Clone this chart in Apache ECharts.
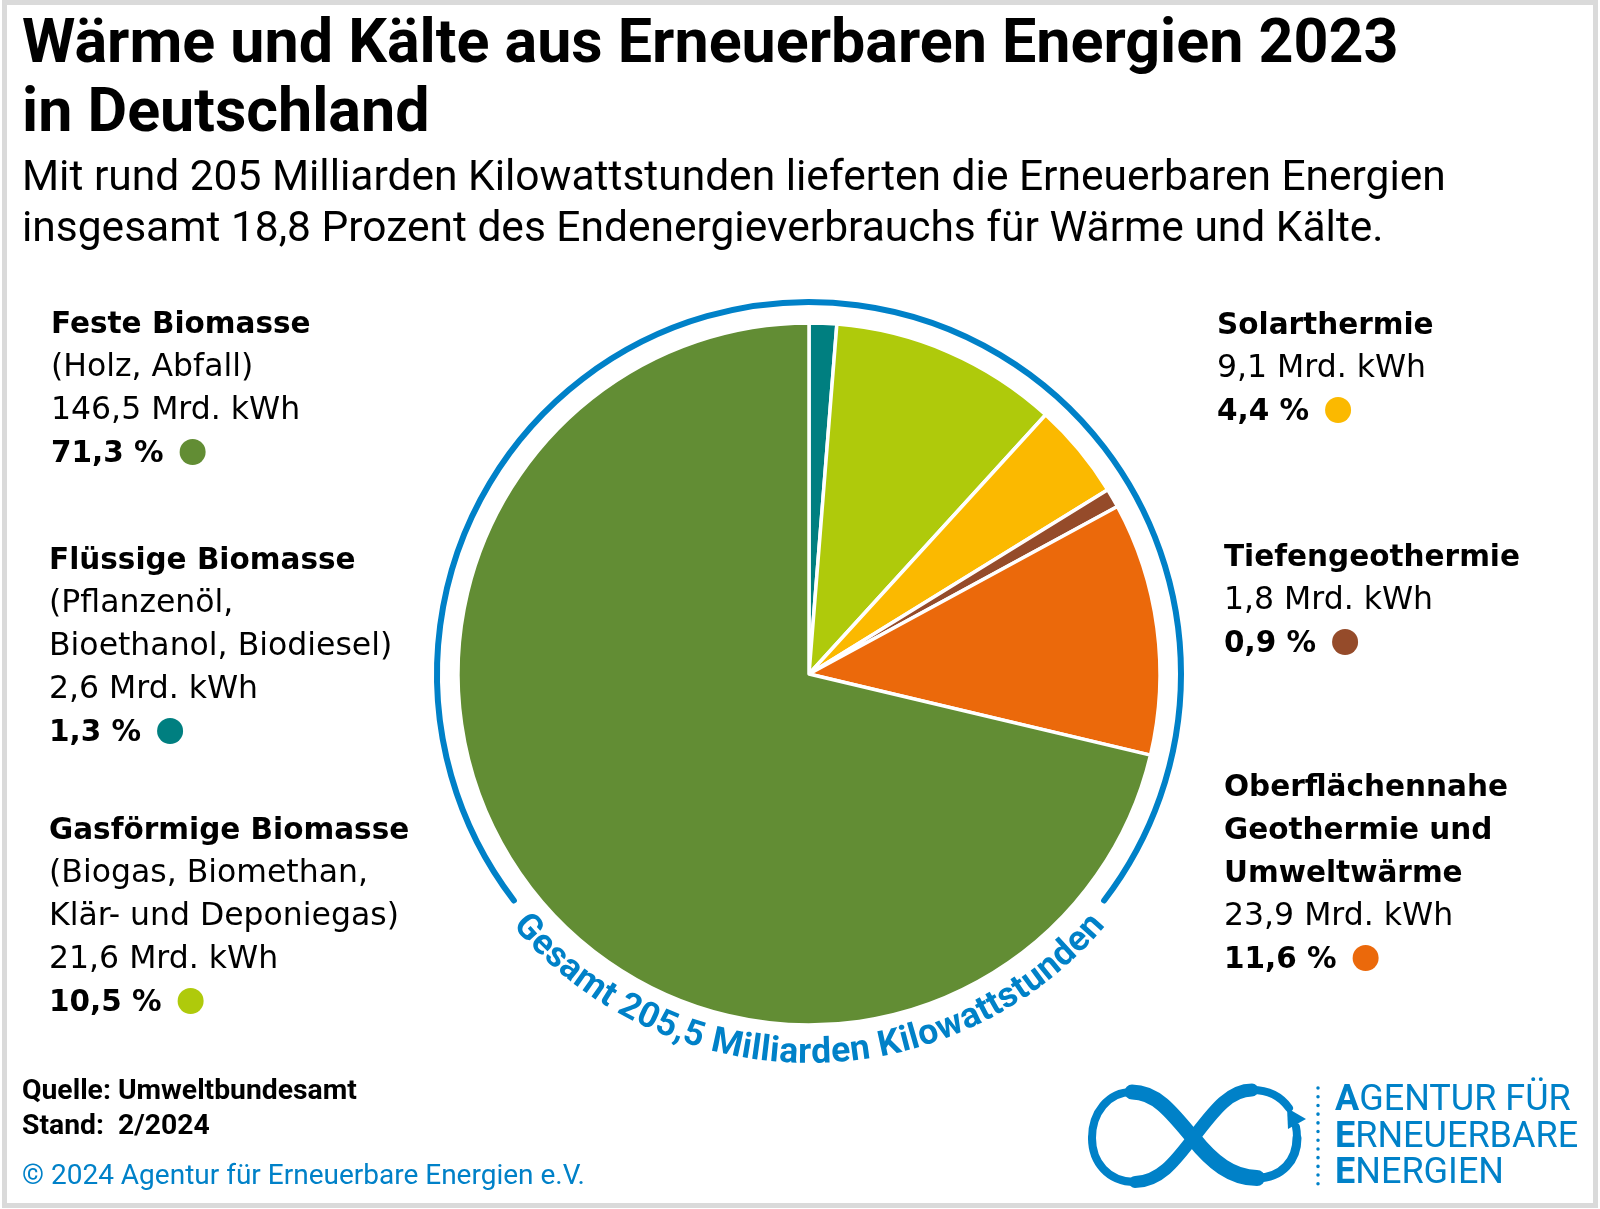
<!DOCTYPE html>
<html><head><meta charset="utf-8">
<script src="https://cdn.jsdelivr.net/npm/echarts@6/dist/echarts.min.js"></script>
<style>html,body{margin:0;padding:0;background:#fff}#c{width:1600px;height:1209px}</style>
</head><body><div id="c"></div>
<script>
// ---------- data ----------
const categoryTitles = [['Feste Biomasse'], ['Flüssige Biomasse'], ['Gasförmige Biomasse'], ['Solarthermie'], ['Tiefengeothermie'], ['Oberflächennahe', 'Geothermie und', 'Umweltwärme']];
const categoryDetails = [['(Holz, Abfall)'], ['(Pflanzenöl,', 'Bioethanol, Biodiesel)'], ['(Biogas, Biomethan,', 'Klär- und Deponiegas)'], [], [], []];
const energyValues = [146.5, 2.6, 21.6, 9.1, 1.8, 23.9]; // Mrd. kWh
const shareLabels = ['71,3 %', '1,3 %', '10,5 %', '4,4 %', '0,9 %', '11,6 %'];
const pieOrder = [1, 2, 3, 4, 5, 0]; // clockwise from 12 o'clock
const titleLines = ['Wärme und Kälte aus Erneuerbaren Energien 2023', 'in Deutschland'];
const subtitleLines = ['Mit rund 205 Milliarden Kilowattstunden lieferten die Erneuerbaren Energien', 'insgesamt 18,8 Prozent des Endenergieverbrauchs für Wärme und Kälte.'];
const totalLabel = 'Gesamt 205,5 Milliarden Kilowattstunden';
const footerLines = ['Quelle: Umweltbundesamt', 'Stand:  2/2024'];
const copyrightLine = '© 2024 Agentur für Erneuerbare Energien e.V.';
const logoLines = ['AGENTUR FÜR', 'ERNEUERBARE', 'ENERGIEN'];

// ---------- styles ----------
const sliceColors = ['#628d34', '#007f80', '#afca0b', '#fbb900', '#954b2a', '#eb690b'];
const BLUE = '#0081c8';
const CX = 809, CY = 674, R = 351;

const mctx = document.createElement('canvas').getContext('2d');
function tw(t, font) { mctx.font = font; return mctx.measureText(t).width; }
const g = [];
function txt(x, base, text, size, family, weight, color, align) {
  g.push({ type: 'text', x: x, y: base - 0.295 * size, silent: true,
    style: { text: text, font: (weight || 'normal') + ' ' + size + 'px ' + family, fill: color || '#000', align: align || 'left', verticalAlign: 'middle' } });
}

// frame
g.push({ type: 'rect', shape: { x: 4.5, y: 2.5, width: 1591, height: 1203 }, style: { fill: 'none', stroke: '#dadada', lineWidth: 5 }, silent: true });

// title + subtitle
txt(22, 65, titleLines[0], 61, 'Roboto', 'bold');
txt(22, 134, titleLines[1], 61, 'Roboto', 'bold');
txt(22, 192, subtitleLines[0], 42.5, 'Roboto', 'normal');
txt(22, 243, subtitleLines[1], 42.5, 'Roboto', 'normal');

// legend blocks
const legendPos = [{ x: 51, y: 334 }, { x: 49, y: 570 }, { x: 49, y: 840 }, { x: 1217, y: 335 }, { x: 1224, y: 567 }, { x: 1224, y: 797 }];
const LH = 43, BS = 29.5, RS = 31.5, FAM = '"DejaVu Sans"';
categoryTitles.forEach((tl, i) => {
  const p = legendPos[i]; let b = p.y;
  tl.forEach(s => { txt(p.x, b, s, BS, FAM, 'bold'); b += LH; });
  categoryDetails[i].forEach(s => { txt(p.x, b, s, RS, FAM, 'normal'); b += LH; });
  txt(p.x, b, energyValues[i].toFixed(1).replace('.', ',') + ' Mrd. kWh', RS, FAM, 'normal'); b += LH;
  txt(p.x, b, shareLabels[i], BS, FAM, 'bold');
  const w = tw(shareLabels[i], 'bold ' + BS + 'px ' + FAM);
  g.push({ type: 'circle', shape: { cx: p.x + w + 29, cy: b - 11, r: 13 }, style: { fill: sliceColors[i] }, silent: true });
});

// blue arc around pie
g.push({ type: 'arc', shape: { cx: CX, cy: CY, r: 372, startAngle: 142.5 * Math.PI / 180, endAngle: (360 + 37.5) * Math.PI / 180, clockwise: true },
  style: { stroke: BLUE, lineWidth: 6, fill: 'none', lineCap: 'round' }, silent: true });

// curved total label
(function () {
  const size = 35.5, font = 'bold ' + size + 'px Roboto', r = 380;
  const chars = totalLabel.split('');
  const widths = chars.map(c => tw(c, font));
  const total = widths.reduce((a, b) => a + b, 0);
  let acc = 0;
  const start = 90 + (total / 2) / r * 180 / Math.PI;
  chars.forEach((c, k) => {
    const th = start - (acc + widths[k] / 2) / r * 180 / Math.PI;
    acc += widths[k];
    const rad = th * Math.PI / 180;
    g.push({ type: 'text', x: CX + r * Math.cos(rad), y: CY + r * Math.sin(rad), rotation: -(th - 90) * Math.PI / 180, silent: true,
      style: { text: c, font: font, fill: BLUE, align: 'center', verticalAlign: 'middle' } });
  });
})();

// footer
txt(22, 1100, footerLines[0], 28.3, 'Roboto', 'bold');
txt(22, 1135, footerLines[1], 28.3, 'Roboto', 'bold');
txt(22, 1185, copyrightLine, 28, 'Roboto', 'normal', BLUE);

// logo: infinity ribbon
const segs = [
  [1193, 1138, 1170, 1110, 1155, 1092, 1132, 1092, 15],
  [1132, 1092, 1108, 1092, 1092, 1113, 1092, 1138, 8],
  [1092, 1138, 1092, 1162, 1108, 1182, 1135, 1182, 8],
  [1135, 1182, 1160, 1182, 1176, 1160, 1193, 1138, 12],
  [1193, 1138, 1212, 1114, 1228, 1090, 1252, 1090, 13],
  [1252, 1090, 1270, 1090, 1282, 1098, 1289, 1108, 8],
  [1193, 1138, 1212, 1162, 1232, 1178, 1257, 1178, 16],
  [1257, 1178, 1282, 1178, 1297, 1160, 1297, 1138, 9],
  [1297, 1138, 1297, 1134, 1297, 1131, 1296, 1127, 8]
];
segs.forEach(s => g.push({ type: 'bezierCurve', silent: true,
  shape: { x1: s[0], y1: s[1], cpx1: s[2], cpy1: s[3], cpx2: s[4], cpy2: s[5], x2: s[6], y2: s[7] },
  style: { stroke: BLUE, lineWidth: s[8], fill: 'none', lineCap: 'round' } }));
g.push({ type: 'polygon', silent: true, shape: { points: [[1287, 1108], [1306, 1119], [1288, 1129]] }, style: { fill: BLUE } });
g.push({ type: 'line', silent: true, shape: { x1: 1318, y1: 1088, x2: 1318, y2: 1186 }, style: { stroke: BLUE, lineWidth: 3.5, lineDash: [0.1, 8.6], lineCap: 'round' } });
logoLines.forEach((s, k) => {
  const base = 1112 + k * 36.5, size = 36;
  txt(1335, base, s[0], size, 'Roboto', 'bold', BLUE);
  const w = tw(s[0], 'bold ' + size + 'px Roboto');
  txt(1335 + w, base, s.slice(1), size, 'Roboto', 'normal', BLUE);
});

const chart = echarts.init(document.getElementById('c'), null, { renderer: 'canvas', width: 1600, height: 1209 });
chart.setOption({
  backgroundColor: '#fff',
  animation: false,
  series: [{
    type: 'pie', center: [CX, CY], radius: [0, R], startAngle: 90, clockwise: true, silent: true,
    label: { show: false }, labelLine: { show: false },
    itemStyle: { borderColor: '#fff', borderWidth: 3.5 },
    emphasis: { disabled: true },
    data: pieOrder.map(i => ({ name: categoryTitles[i].join(' '), value: energyValues[i], itemStyle: { color: sliceColors[i] } }))
  }],
  graphic: { elements: g }
});
</script></body></html>
